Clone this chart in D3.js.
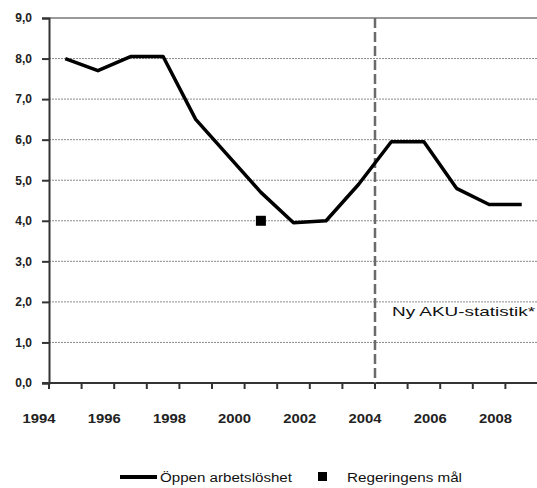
<!DOCTYPE html>
<html><head><meta charset="utf-8">
<script src="https://cdn.jsdelivr.net/npm/d3@7"></script>
<style>body{margin:0;background:#fff}svg{display:block}text{font-family:"Liberation Sans Narrow","Liberation Sans",Arial,sans-serif}</style>
</head><body><svg id="c" width="537" height="488"></svg>
<script>
const categories = [1994,1995,1996,1997,1998,1999,2000,2001,2002,2003,2004,2005,2006,2007,2008];
const unemployment = [8.0,7.7,8.05,8.05,6.5,5.6,4.7,3.95,4.0,4.9,5.95,5.95,4.8,4.4,4.4];
const goalCategory = [2000];
const goalValue = [4.0];
const yTicks = [0,1,2,3,4,5,6,7,8,9];
const xLabels = [1994,1996,1998,2000,2002,2004,2006,2008];
const breakCategory = 2004;
const seriesName = "Öppen arbetslöshet";
const goalName = "Regeringens mål";
const annotation = "Ny AKU-statistik*";

const svg = d3.select("#c");
const L = 49, R = 538, T = 18, B = 383;
const x = d3.scaleBand().domain(categories).range([L, R]).paddingInner(0).paddingOuter(0);
const y = d3.scaleLinear().domain([0, 9]).range([B, T]);
const fmt = v => d3.format(".1f")(v).replace(".", ",");

// gridlines
svg.append("g").selectAll("line").data(yTicks.filter(v => v > 0 && v < 9)).join("line")
  .attr("x1", L).attr("x2", R).attr("y1", d => y(d)).attr("y2", d => y(d))
  .attr("stroke", "#8a8a8a").attr("stroke-width", 1).attr("stroke-dasharray", "2,1");
// top border
svg.append("line").attr("x1", L).attr("x2", R).attr("y1", y(9)).attr("y2", y(9))
  .attr("stroke", "#9a9a9a").attr("stroke-width", 2);

// y axis
const yAxis = svg.append("g").attr("transform", `translate(${L},0)`)
  .call(d3.axisLeft(y).tickValues(yTicks).tickFormat(fmt).tickSize(7).tickPadding(10));
yAxis.select(".domain").attr("stroke", "#333").attr("stroke-width", 2);
yAxis.selectAll(".tick line").attr("stroke", "#333").attr("stroke-width", 2);
yAxis.selectAll("text").attr("font-size", 12).attr("font-weight", "bold").attr("fill", "#222")
  .attr("font-family", "'Liberation Sans Narrow','Liberation Sans',Arial,sans-serif");

// x axis (ticks at band boundaries)
const xg = svg.append("g").attr("transform", `translate(0,${B})`);
xg.append("line").attr("x1", L - 7).attr("x2", R).attr("stroke", "#333").attr("stroke-width", 2);
xg.selectAll("line.t").data(categories).join("line").attr("class", "t")
  .attr("x1", d => x(d)).attr("x2", d => x(d)).attr("y1", 0).attr("y2", 6)
  .attr("stroke", "#333").attr("stroke-width", 2);
xg.selectAll("text").data(xLabels).join("text")
  .attr("x", d => x(d) - 10).attr("y", 40).attr("text-anchor", "middle")
  .attr("font-size", 12).attr("font-weight", "bold").attr("fill", "#222")
  .attr("textLength", 33).attr("lengthAdjust", "spacingAndGlyphs")
  .text(d => d);

// break line
svg.append("line").attr("x1", x(breakCategory)).attr("x2", x(breakCategory))
  .attr("y1", T).attr("y2", B).attr("stroke", "#6a6a6a").attr("stroke-width", 2.5)
  .attr("stroke-dasharray", "10,4");

// series line
const line = d3.line().x((d, i) => x(categories[i]) + x.bandwidth() / 2).y(d => y(d));
svg.append("path").datum(unemployment).attr("d", line)
  .attr("fill", "none").attr("stroke", "#000").attr("stroke-width", 3.5)
  .attr("stroke-linejoin", "round");

// goal marker
svg.selectAll("rect.goal").data(goalValue).join("rect").attr("class", "goal")
  .attr("x", (d, i) => x(goalCategory[i]) + x.bandwidth() / 2 - 5)
  .attr("y", d => y(d) - 5).attr("width", 10).attr("height", 10).attr("fill", "#000");

// annotation
svg.append("text").attr("x", 392).attr("y", 316).attr("font-size", 13).attr("fill", "#111")
  .attr("textLength", 143).attr("lengthAdjust", "spacingAndGlyphs")
  .attr("font-family", "'Liberation Sans',Arial,sans-serif").text(annotation);

// legend
const lg = svg.append("g");
lg.append("line").attr("x1", 120).attr("x2", 157).attr("y1", 477).attr("y2", 477)
  .attr("stroke", "#000").attr("stroke-width", 4);
lg.append("text").attr("x", 160).attr("y", 482).attr("font-size", 12).attr("fill", "#111")
  .attr("textLength", 132).attr("lengthAdjust", "spacingAndGlyphs").text(seriesName);
lg.append("rect").attr("x", 318).attr("y", 472).attr("width", 9).attr("height", 9).attr("fill", "#000");
lg.append("text").attr("x", 347).attr("y", 482).attr("font-size", 12).attr("fill", "#111")
  .attr("textLength", 115).attr("lengthAdjust", "spacingAndGlyphs").text(goalName);
</script></body></html>
